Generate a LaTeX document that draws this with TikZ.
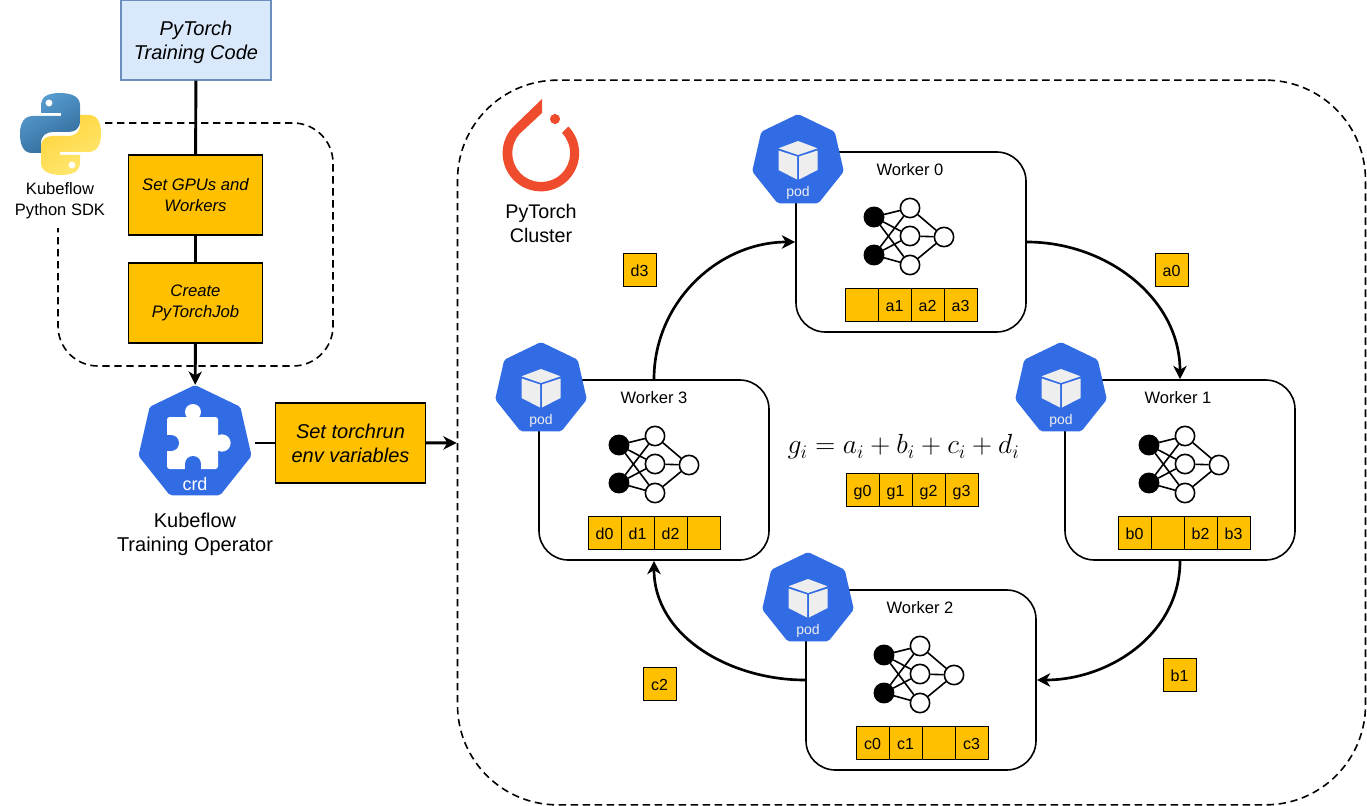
\documentclass[tikz,border=0pt]{standalone}
\usepackage{fontspec}
\setmainfont{Liberation Sans}
\usetikzlibrary{shapes.geometric,arrows.meta}
\definecolor{kubeblue}{HTML}{326CE5}
\definecolor{cellgold}{HTML}{FFC000}
\definecolor{torchred}{HTML}{EE4C2C}
\definecolor{cubegrey}{HTML}{EEEEEE}
\definecolor{codefill}{HTML}{DAE8FC}
\definecolor{codeline}{HTML}{6C8EBF}
\definecolor{pyblueA}{HTML}{5A9FD4}
\definecolor{pyblueB}{HTML}{306998}
\definecolor{pyyellowA}{HTML}{FFE873}
\definecolor{pyyellowB}{HTML}{FFD43B}
\tikzset{
	goldbox/.style={draw=black, fill=cellgold, line width=0.9pt, inner sep=0pt, align=center, font=\fontsize{12.5}{15.2}\selectfont\itshape, minimum width=101pt, minimum height=60pt},
	bigtext/.style={align=center, font=\fontsize{15}{18}\selectfont},
	cell/.style={draw=black, fill=cellgold, line width=0.7pt, inner sep=0pt, minimum width=24.75pt, minimum height=24.75pt, font=\fontsize{12}{14}\selectfont, text height=10pt, text depth=0pt},
	workerbox/.style={draw=black, fill=white, line width=1.2pt, rounded corners=22pt, minimum width=172.5pt, minimum height=135pt},
	podicon/.style={regular polygon, regular polygon sides=7, fill=kubeblue, minimum size=70.5pt, inner sep=0pt, rounded corners=1.5pt},
	neuron/.style={circle, draw=black, fill=white, line width=1.2pt, inner sep=0pt, minimum size=14.5pt},
	inneuron/.style={neuron, fill=black},
	wire/.style={line width=1.2pt},
	flow/.style={->, line width=2pt},
	dashline/.style={line width=1.2pt, dash pattern=on 5.5pt off 3.5pt}
}
\def\pysnake{(60,93) .. controls (47,93) and (41,97) .. (41,106) -- (41,113) -- (61,113) -- (61,116) -- (33,116) .. controls (24,116) and (20,123) .. (20,134) .. controls (20,146) and (24,153) .. (32,153) -- (41,153) -- (41,143) .. controls (41,135) and (47,132) .. (53,132) -- (69,132) .. controls (76,132) and (80,127) .. (80,122) -- (80,105) .. controls (80,97) and (72,93) .. (60,93) -- cycle}
\begin{document}
\begin{tikzpicture}[x=0.75pt, y=-0.75pt, >={Stealth[length=10pt, width=10pt, inset=3pt]}]
	\useasboundingbox (0,0) rectangle (1367,806);
	% cluster frame
	\node[draw=black, dashline, rounded corners=75pt, minimum width=681pt, minimum height=543.5pt] (cluster) at (911.5,442.5) {};
	% sdk dashed frame
	\coordinate (sdkstart) at (105,123);
	\coordinate (sdkend) at (58,228);
	\draw[dashline, rounded corners=30pt] (sdkstart) -- (333,123) -- (333,366) -- (58,366) -- (sdkend);
	% python logo
	\shade[left color=pyblueA, right color=pyblueB, shading angle=30] \pysnake;
	\fill[white] (49,103) circle (2.6pt);
	\begin{scope}[shift={(121,268)}, xscale=-1, yscale=-1]
		\shade[left color=pyyellowB, right color=pyyellowA, shading angle=30] \pysnake;
		\fill[white] (49,103) circle (2.6pt);
	\end{scope}
	\node[align=center, font=\fontsize{12.4}{15.6}\selectfont] (sdklabel) at (60,200.5) {Kubeflow\\Python SDK};
	% left column
	\node[draw=codeline, fill=codefill, line width=0.8pt, minimum width=112.5pt, minimum height=60pt] (code) at (196,40) {};
	\node[align=center, font=\fontsize{15}{18}\selectfont\itshape] (codelabel) at (196,42) {PyTorch\\Training Code};
	\node[goldbox] (gpus) at (195.5,195) {Set GPUs and\\Workers};
	\node[goldbox] (job) at (195.5,303) {Create\\PyTorchJob};
	\node[podicon, minimum size=87pt] (crd) at (195,443) {};
	% puzzle piece
	\fill[white, rounded corners=2pt] (167,417) rectangle (218,469);
	\fill[white] (193,412) circle (6pt);
	\fill[white] (222,443) circle (6.5pt);
	\fill[kubeblue] (171,443) circle (6pt);
	\fill[kubeblue] (165,435) rectangle (171,451);
	\fill[kubeblue] (193,464) circle (6pt);
	\fill[kubeblue] (185,464) rectangle (201,471);
	\node[text=white, font=\fontsize{13.5}{16}\selectfont] (crdlabel) at (195,484) {crd};
	\node[bigtext] (operator) at (195,534) {Kubeflow\\Training Operator};
	\node[goldbox, minimum width=112.5pt, font=\fontsize{15}{18}\selectfont\itshape] (envbox) at (350.5,443) {Set torchrun\\env variables};
	\coordinate (crdout) at (255,443);
	\draw[line width=2.2pt] (code) -- (gpus);
	\draw[line width=2.2pt] (gpus) -- (job);
	\draw[flow, line width=2.2pt] (job) -- (crd);
	\draw[line width=2.2pt] (crdout) -- (envbox);
	\draw[flow, line width=2.2pt] (envbox) -- (cluster);
	% pytorch logo
	\fill[torchred] (542,99) -- (512,128) arc (139:404:28.7pt) -- (562,133) arc (404:138:21.7pt) -- (542,113) -- cycle;
	\fill[torchred] (555,119) circle (3.8pt);
	\node[bigtext, font=\fontsize{14.8}{18}\selectfont] (clusterlabel) at (541,223) {PyTorch\\Cluster};
	% workers
	\foreach \wid/\num/\wx/\wy/\podx/\titlex/\netx/\cellx/\ca/\cb/\cc/\cd in {
		w0/0/796/152/798/910/874/845/{}/a1/a2/a3,
		w1/1/1065/380/1061/1178/1149/1118/b0/{}/b2/b3,
		w2/2/806/590/808/920/884/856/c0/c1/{}/c3,
		w3/3/539/380/541/654/619/588/d0/d1/d2/{}}{
		\node[workerbox] (\wid) at ({\wx+115},{\wy+90}) {};
		\node[podicon] (\wid-pod) at (\podx,{\wy+9}) {};
		\begin{scope}[shift={(\podx,{\wy+9})}]
			\fill[cubegrey] (0,-20) -- (-19.5,-12.7) -- (0,-6) -- (19.5,-12.7) -- cycle;
			\fill[cubegrey] (-19.5,-10.5) -- (-1,-4.5) -- (-1,18.5) -- (-19.5,9) -- cycle;
			\fill[cubegrey] (19.5,-10.5) -- (1,-4.5) -- (1,18.5) -- (19.5,9) -- cycle;
		\end{scope}
		\node[text=cubegrey, font=\fontsize{10.5}{12}\selectfont] (\wid-podlabel) at (\podx,{\wy+41}) {pod};
		\node[font=\fontsize{12.4}{14}\selectfont] (\wid-title) at (\titlex,{\wy+18}) {Worker \num};
		% network
		\node[inneuron] (\wid-in1) at (\netx,{\wy+65}) {};
		\node[inneuron] (\wid-in2) at (\netx,{\wy+103}) {};
		\node[neuron] (\wid-hid1) at ({\netx+36},{\wy+56}) {};
		\node[neuron] (\wid-hid2) at ({\netx+36},{\wy+84}) {};
		\node[neuron] (\wid-hid3) at ({\netx+36},{\wy+113}) {};
		\node[neuron] (\wid-out) at ({\netx+70},{\wy+85}) {};
		\foreach \i in {1,2}
			\foreach \j in {1,2,3}
				\draw[wire] (\wid-in\i) -- (\wid-hid\j);
		\foreach \j in {1,2,3}
			\draw[wire] (\wid-hid\j) -- (\wid-out);
		% gradients
		\node[cell] (\wid-c0) at ({\cellx+16.5},{\wy+152.5}) {\ca};
		\node[cell] (\wid-c1) at ({\cellx+49.5},{\wy+152.5}) {\cb};
		\node[cell] (\wid-c2) at ({\cellx+82.5},{\wy+152.5}) {\cc};
		\node[cell] (\wid-c3) at ({\cellx+115.5},{\wy+152.5}) {\cd};
	}
	% ring
	\draw[flow] (w0.east) to[out=0, in=90] (w1.north);
	\draw[flow] (w1.south) to[out=-90, in=0] (w2.east);
	\draw[flow] (w2.west) to[out=180, in=-90] (w3.south);
	\draw[flow] (w3.north) to[out=90, in=180] (w0.west);
	\node[cell] (a0) at (1171.5,269.5) {a0};
	\node[cell] (b1) at (1179.5,674.5) {b1};
	\node[cell] (c2) at (659.5,683.5) {c2};
	\node[cell] (d3) at (639.5,269.5) {d3};
	% average
	\node[font=\fontsize{21}{25}\selectfont] (formula) at (903.5,447) {$g_i = a_i + b_i + c_i + d_i$};
	\node[cell] (g0) at (862.5,489.5) {g0};
	\node[cell] (g1) at (895.5,489.5) {g1};
	\node[cell] (g2) at (928.5,489.5) {g2};
	\node[cell] (g3) at (961.5,489.5) {g3};
\end{tikzpicture}
\end{document}
